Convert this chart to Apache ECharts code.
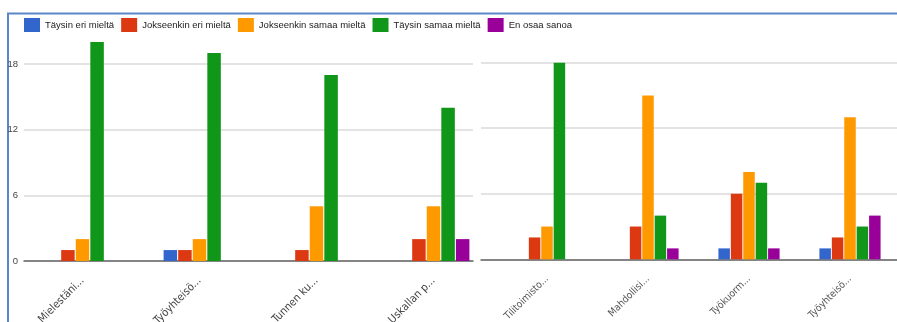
<!DOCTYPE html>
<html>
<head>
<meta charset="utf-8">
<script src="https://cdn.jsdelivr.net/npm/echarts@6/dist/echarts.min.js"></script>
<style>
  html, body { margin: 0; padding: 0; background: #fff; }
  #chart { width: 897px; height: 322px; }
</style>
</head>
<body>
<div id="chart"></div>
<script>
// Answer options (legend / series names)
const answerNames = ['Täysin eri mieltä', 'Jokseenkin eri mieltä', 'Jokseenkin samaa mieltä', 'Täysin samaa mieltä', 'En osaa sanoa'];
const answerColors = ['#3366cc', '#dc3912', '#ff9900', '#109618', '#990099'];

// Left panel: statements and answer counts
const leftCategories = ['Mielestäni...', 'Työyhteisö...', 'Tunnen ku...', 'Uskallan p...'];
const leftTaysinEri = [0, 1, 0, 0];
const leftJokseenkinEri = [1, 1, 1, 2];
const leftJokseenkinSamaa = [2, 2, 5, 5];
const leftTaysinSamaa = [20, 19, 17, 14];
const leftEnOsaa = [0, 0, 0, 2];

// Right panel: statements and answer counts
const rightCategories = ['Tilitoimisto...', 'Mahdollisi...', 'Työkuorm...', 'Työyhteisö...'];
const rightTaysinEri = [0, 0, 1, 1];
const rightJokseenkinEri = [2, 3, 6, 2];
const rightJokseenkinSamaa = [3, 15, 8, 13];
const rightTaysinSamaa = [18, 4, 7, 3];
const rightEnOsaa = [0, 1, 1, 4];

// Value axis ticks
const yTicks = [0, 6, 12, 18];

const SANS = '"Liberation Sans", Arial, sans-serif';
const COND = '"DejaVu Sans Condensed", "Liberation Sans", Arial, sans-serif';
const leftSeriesData = [leftTaysinEri, leftJokseenkinEri, leftJokseenkinSamaa, leftTaysinSamaa, leftEnOsaa];
const rightSeriesData = [rightTaysinEri, rightJokseenkinEri, rightJokseenkinSamaa, rightTaysinSamaa, rightEnOsaa];

const tickStep = yTicks[1] - yTicks[0];
const tickMax = yTicks[yTicks.length - 1];

// pixel scale shared by both panels
const leftBase = 261, leftTop18 = 64;
const pxPerUnit = (leftBase - leftTop18) / tickMax;
const leftDataMax = Math.max(...leftTaysinSamaa);

const rightBase = 259.3, rightTop18 = 62.7;

// gridlines + baseline layer of a panel
function backdropY(showLabels) {
  return {
    type: 'value', min: yTicks[0], max: tickMax, interval: tickStep,
    axisLine: { show: false }, axisTick: { show: false },
    axisLabel: { show: showLabels, color: '#444', fontFamily: SANS, fontSize: 9.5, margin: 6 },
    splitLine: { show: true, lineStyle: { color: '#e3e3e3', width: 2 } }
  };
}
function backdropX(cats) {
  return {
    type: 'category', data: cats,
    axisLine: { show: true, lineStyle: { color: '#666', width: 1.5 } },
    axisTick: { show: false }, axisLabel: { show: false }, splitLine: { show: false }
  };
}
// category axis that carries the bars and slanted labels
function dataX(cats, idx, size, color) {
  return {
    type: 'category', data: cats, gridIndex: idx,
    axisLine: { show: false }, axisTick: { show: false },
    axisLabel: { show: true, rotate: 45, color: color, fontFamily: COND, fontSize: size, margin: 18 }
  };
}

const series = [];
leftSeriesData.forEach((d, i) => {
  series.push({
    type: 'bar', name: answerNames[i], data: d, xAxisIndex: 1, yAxisIndex: 1,
    barWidth: 13.5, barGap: '8%', itemStyle: { color: answerColors[i] }
  });
});
rightSeriesData.forEach((d, i) => {
  series.push({
    type: 'bar', name: answerNames[i], data: d, xAxisIndex: 3, yAxisIndex: 3,
    barWidth: 11.5, barGap: '8%', itemStyle: { color: answerColors[i] }
  });
});

function panelGrid(left, width, top, height) {
  return { left: left, width: width, top: top, height: height, containLabel: false, outerBoundsMode: 'none' };
}

const chart = echarts.init(document.getElementById('chart'), null, { renderer: 'canvas' });
chart.setOption({
  animation: false,
  backgroundColor: '#fff',
  textStyle: { fontFamily: SANS },
  legend: {
    data: answerNames, left: 19, top: 13, itemWidth: 16, itemHeight: 14, itemGap: 7,
    icon: 'rect', textStyle: { fontFamily: SANS, fontSize: 9.5, color: '#222' }
  },
  graphic: [{
    type: 'polyline', silent: true, z: 0,
    shape: { points: [[8, 322], [8, 13.5], [897, 13.5]] },
    style: { stroke: '#5b87c9', lineWidth: 2, fill: null }
  }],
  grid: [
    panelGrid(24, 449, leftTop18, leftBase - leftTop18),
    panelGrid(24, 468, leftBase - leftDataMax * pxPerUnit, leftDataMax * pxPerUnit),
    panelGrid(481, 420, rightTop18, rightBase - rightTop18),
    panelGrid(496.5, 404, rightTop18, rightBase - rightTop18)
  ],
  xAxis: [
    Object.assign(backdropX(leftCategories), { gridIndex: 0 }),
    dataX(leftCategories, 1, 11, '#444'),
    Object.assign(backdropX(rightCategories), { gridIndex: 2 }),
    dataX(rightCategories, 3, 10, '#555')
  ],
  yAxis: [
    Object.assign(backdropY(true), { gridIndex: 0 }),
    { type: 'value', gridIndex: 1, min: 0, max: leftDataMax, show: false, splitLine: { show: false } },
    Object.assign(backdropY(false), { gridIndex: 2 }),
    { type: 'value', gridIndex: 3, min: 0, max: tickMax, show: false, splitLine: { show: false } }
  ],
  series: series
});
</script>
</body>
</html>
